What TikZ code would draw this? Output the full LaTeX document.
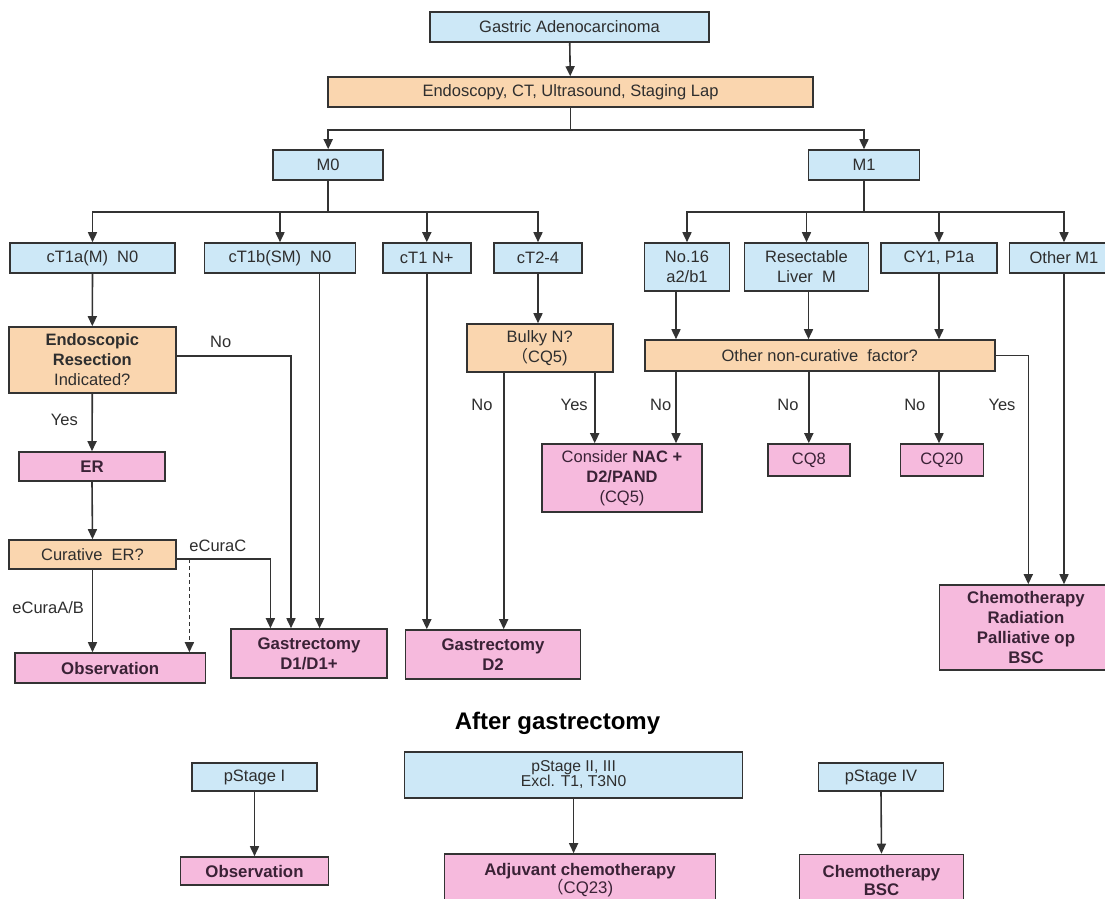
\documentclass[tikz,border=0pt]{standalone}
\usepackage{fontspec}
\setmainfont{Liberation Sans}
\newfontfamily\cjk{Noto Sans CJK SC}
\usetikzlibrary{arrows.meta,calc}
\definecolor{bluefill}{HTML}{CDE8F7}
\definecolor{orfill}{HTML}{FAD6AF}
\definecolor{pkfill}{HTML}{F6BADD}
\definecolor{edgecol}{HTML}{333333}
\definecolor{txtcol}{HTML}{2E2E2E}
\definecolor{ptxtcol}{HTML}{3A2236}
\begin{document}
\begin{tikzpicture}[x=1pt,y=-1pt,
  box/.style={draw=edgecol, line width=1.6pt, inner sep=1pt, align=center, text=txtcol,
              font=\fontsize{16.5}{20}\selectfont},
  sz/.style 2 args={minimum width=#1, minimum height=#2},
  bluebox/.style={box, fill=bluefill},
  orbox/.style={box, fill=orfill},
  pkbox/.style={box, fill=pkfill, text=ptxtcol, font=\fontsize{16.8}{20}\selectfont\bfseries},
  lbl/.style={text=txtcol, inner sep=0pt, font=\fontsize{16.5}{20}\selectfont},
  arr/.style={line width=1.6pt, draw=edgecol, -{Triangle[length=10pt,width=9pt]}},
  ln/.style={line width=1.6pt, draw=edgecol},
  dsh/.style={arr, dash pattern=on 4pt off 3pt}
]
\clip (0,0) rectangle (1105,898);
\fill[white] (0,0) rectangle (1105,898);

% ---- top level
\node[bluebox, sz={279}{30}] (gastric) at (569.5,27) {Gastric Adenocarcinoma};
\node[orbox, sz={485}{30}] (endo) at (570.5,92) {Endoscopy, CT, Ultrasound, Staging Lap};
\node[bluebox, sz={110}{30}] (m0) at (328.2,165) {M0};
\node[bluebox, sz={111}{30}] (m1) at (864,165) {M1};

% ---- M0 branch
\node[bluebox, sz={165}{30}] (ct1a) at (92.5,258) {cT1a(M)\ \ N0};
\node[bluebox, sz={151}{30}] (ct1b) at (280,258) {cT1b(SM)\ \ N0};
\node[bluebox, sz={88}{30}] (ct1n) at (426.8,258) {cT1 N+};
\node[bluebox, sz={88}{30}] (ct24) at (538,258) {cT2-4};

% ---- M1 branch
\node[bluebox, sz={85}{48}] (no16) at (687,267) {No.16\\a2/b1};
\node[bluebox, sz={124}{48}] (resect) at (806.5,267) {Resectable\\Liver\ \ M};
\node[bluebox, sz={116}{30}] (cy1) at (939,258) {CY1, P1a};
\node[bluebox, sz={109}{30}] (om1) at (1064,258) {Other M1};

% ---- left column
\node[orbox, sz={167}{66}] (endores) at (92.3,360) {\textbf{Endoscopic}\\\textbf{Resection}\\Indicated?};
\node[pkbox, sz={146}{29}] (er) at (92,466.5) {ER};
\node[orbox, sz={167}{29}] (cur) at (92.5,554.5) {Curative\ \ ER?};
\node[pkbox, sz={190.4}{30}] (obs1) at (110.2,668) {Observation};
\node[pkbox, sz={156}{49}] (gd1) at (309,653.5) {Gastrectomy\\D1/D1+};
\node[pkbox, sz={175}{49}] (gd2) at (493,654.5) {Gastrectomy\\D2};
\node[orbox, sz={146}{48}] (bulky) at (539.7,348) {Bulky N?\\{\cjk （}CQ5)};
\node[pkbox, sz={160.4}{68}, font=\fontsize{16.5}{20}\selectfont] (consider) at (622,478)
  {Consider \textbf{NAC +}\\\textbf{D2/PAND}\\(CQ5)};

% ---- right column
\node[orbox, sz={350}{31}] (onc) at (819.7,355.5) {Other non-curative\ \ factor?};
\node[pkbox, sz={82}{32}, font=\fontsize{16.5}{20}\selectfont] (cq8) at (808.8,460) {CQ8};
\node[pkbox, sz={83}{32}, font=\fontsize{16.5}{20}\selectfont] (cq20) at (941.8,460) {CQ20};
\node[pkbox, sz={173.4}{85}] (chemo) at (1026,627.5) {Chemotherapy\\Radiation\\Palliative op\\BSC};

% ---- after gastrectomy
\node[text=black, inner sep=0pt, font=\fontsize{24}{28}\selectfont\bfseries] (title) at (557.5,723) {After gastrectomy};
\node[bluebox, sz={125}{28}] (ps1) at (254.5,777) {pStage I};
\node[pkbox, sz={148}{28}] (obs2) at (254.5,871) {Observation};
\node[bluebox, sz={338}{46}, font=\fontsize{15.7}{15}\selectfont] (ps2) at (573.6,775) {pStage II, III\\Excl. T1, T3N0};
\node[pkbox, sz={271}{53}, font=\fontsize{16.8}{18}\selectfont\bfseries] (adj) at (580,880.5) {Adjuvant chemotherapy\\\mdseries{\cjk （}CQ23)};
\node[pkbox, sz={164}{51}, font=\fontsize{16.8}{18}\selectfont\bfseries] (chbsc) at (881.5,880) {Chemotherapy\\BSC};
\node[bluebox, sz={125}{28}] (ps4) at (881,777) {pStage IV};

% ---- connectors: top
\draw[arr] (gastric) -- (endo);
\coordinate (j1) at ($(endo.south)+(0,22)$);
\draw[ln] (endo.south) -- (j1);
\draw[arr] (j1) -| (m0.north);
\draw[arr] (j1) -| (m1.north);

\coordinate (j2) at ($(m0.south)+(0,31)$);
\draw[ln] (m0.south) -- (j2);
\draw[arr] (j2) -| (ct1a.north);
\draw[arr] (j2) -| (ct1b.north);
\draw[arr] (j2) -| (ct1n.north);
\draw[arr] (j2) -| (ct24.north);

\coordinate (j3) at ($(m1.south)+(0,31)$);
\draw[ln] (m1.south) -- (j3);
\draw[arr] (j3) -| (no16.north);
\draw[arr] (j3) -| (resect.north);
\draw[arr] (j3) -| (cy1.north);
\draw[arr] (j3) -| (om1.north);

% ---- left column connectors
\draw[arr] (ct1a.south) -- (endores.north);
\draw[arr] ([yshift=4pt]endores.east) -| ([xshift=-18pt]gd1.north);
\node[lbl] (lno1) at (220.7,342) {No};
\draw[arr] ([xshift=39.6pt]ct1b.south) -- ([xshift=39.6pt]ct1b.south |- gd1.north);
\draw[arr] (endores.south) -- (er.north);
\node[lbl] (lyes1) at (64.3,420) {Yes};
\draw[arr] (er.south) -- (cur.north);
\draw[arr] ([yshift=-4.5pt]cur.east) -| ([xshift=-38.6pt]gd1.north);
\node[lbl] (lcurac) at (217.9,546) {eCuraC};
\coordinate (dj) at ($([yshift=-4.5pt]cur.east)+(12.6,0)$);
\draw[dsh] (dj) -- (dj |- obs1.north);
\draw[arr] (cur.south) -- (cur.south |- obs1.north);
\node[lbl] (lcurab) at (48.2,608) {eCuraA/B};

\draw[arr] (ct1n.south) -- (ct1n.south |- gd2.north);
\draw[arr] (ct24.south) -- (ct24.south |- bulky.north);
\draw[arr] ([xshift=-36pt]bulky.south) -- ([xshift=-36pt]bulky.south |- gd2.north);
\node[lbl] (lno2) at (482,405) {No};
\draw[arr] ([xshift=55pt]bulky.south) -- ([xshift=55pt]bulky.south |- consider.north);
\node[lbl] (lyes2) at (574.2,405) {Yes};

% ---- right column connectors
\draw[arr] ([xshift=-11pt]no16.south) -- ([xshift=-11pt]no16.south |- onc.north);
\draw[arr] ([xshift=2pt]resect.south) -- ([xshift=2pt]resect.south |- onc.north);
\draw[arr] (cy1.south) -- (cy1.south |- onc.north);
\draw[arr] ([xshift=-11pt]no16.south |- onc.south) -- ([xshift=-11pt]no16.south |- consider.north);
\node[lbl] (lno3) at (660.7,405) {No};
\draw[arr] (cq8.north |- onc.south) -- (cq8.north);
\node[lbl] (lno4) at (787.9,405) {No};
\draw[arr] (cy1.south |- onc.south) -- (cy1.south |- cq20.north);
\node[lbl] (lno5) at (914.8,405) {No};
\draw[arr] (onc.east) -| ([xshift=2.3pt]chemo.north);
\node[lbl] (lyes3) at (1002,405) {Yes};
\draw[arr] (om1.south) -- (om1.south |- chemo.north);

% ---- bottom connectors
\draw[arr] (ps1.south) -- (obs2.north);
\draw[arr] (ps2.south) -- (ps2.south |- adj.north);
\draw[arr] (ps4.south) -- (chbsc.north);
\end{tikzpicture}
\end{document}
